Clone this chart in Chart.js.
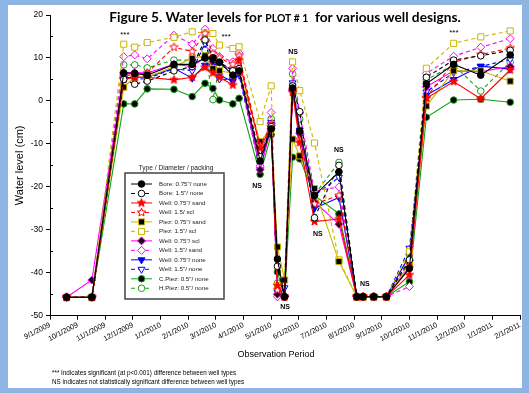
<!DOCTYPE html>
<html lang="en">
<head>
<meta charset="UTF-8">
<title>Figure 5. Water levels for PLOT # 1</title>
<script src="https://cdn.jsdelivr.net/npm/chart.js"></script>
<style>
  html, body { margin: 0; padding: 0; background: #8db4e2; }
  canvas { display: block; }
</style>
</head>
<body>
<canvas id="wellChart" width="529" height="393"></canvas>
<script>
// sampling dates (m/d/yyyy)
var sampleDates = ['9/19/2009', '10/17/2009', '11/21/2009', '12/3/2009', '12/17/2009',
    '1/16/2010', '2/5/2010', '2/18/2010', '2/26/2010', '3/5/2010', '3/20/2010', '3/27/2010',
    '4/19/2010', '5/1/2010', '5/8/2010', '5/16/2010', '5/25/2010', '6/2/2010', '6/18/2010',
    '7/15/2010', '8/4/2010', '8/11/2010', '8/23/2010', '9/6/2010', '10/1/2010', '10/20/2010',
    '11/19/2010', '12/19/2010', '1/21/2011'];

var tickLabels = ['9/1/2009', '10/1/2009', '11/1/2009', '12/1/2009', '1/1/2010', '2/1/2010',
    '3/1/2010', '4/1/2010', '5/1/2010', '6/1/2010', '7/1/2010', '8/1/2010', '9/1/2010',
    '10/1/2010', '11/1/2010', '12/1/2010', '1/1/2011', '2/1/2011'];

// water level (cm), one value per sampling date
var bore075None  = [-45.7, -45.7, 6.5, 6.4, 6.0, 8.5, 8.5, 10.0, 10.0, 9.0, 6.0, 7.0, -14.0, -6.5, -36.8, -45.6, 3.0, -7.0, -22.0, -16.5, -45.6, -45.6, -45.6, -45.6, -39.0, 4.0, 8.5, 6.0, 10.7];
var bore15None   = [-45.7, -45.7, 5.0, 3.9, 4.6, 7.0, 8.0, 14.2, 10.0, 9.0, 7.0, 7.5, -13.0, -6.0, -38.5, -45.6, 3.5, -2.5, -27.2, -15.0, -45.6, -45.6, -45.6, -45.6, -37.0, 5.5, 9.5, 10.5, 11.8];
var well075Sand  = [-45.7, -45.7, 5.0, 5.5, 5.5, 4.9, 5.5, 7.8, 6.5, 5.5, 3.7, 9.5, -11.0, -6.0, -43.0, -45.6, 2.0, -9.7, -28.1, -27.5, -45.6, -45.6, -45.6, -45.6, -40.5, 0.6, 4.5, 0.5, 7.2];
var well15Scl    = [-45.7, -45.7, 6.0, 6.0, 6.5, 12.5, 11.5, 15.7, 11.0, 10.0, 8.5, 10.5, -10.5, -5.5, -44.0, -45.6, 2.5, -9.0, -24.0, -22.0, -45.6, -45.6, -45.6, -45.6, -37.4, 0.8, 9.0, 10.8, 12.3];
var piez075Sand  = [-45.7, -45.7, 3.2, 5.5, 5.5, 8.0, 9.9, 10.5, 7.5, 7.0, 6.5, 7.0, -9.5, -6.5, -34.0, -41.7, -8.9, -12.8, -20.4, -37.4, -45.6, -45.6, -45.6, -45.6, -38.0, -1.2, 7.0, 7.0, 4.6];
var piez15Scl    = [-45.7, -45.7, 13.2, 12.5, 13.6, 14.8, 16.1, 15.8, 15.7, 13.0, 12.2, 12.6, -4.8, 3.5, -43.0, -41.7, 9.1, 2.4, -9.8, -37.0, -45.6, -45.6, -45.6, -45.6, -35.0, 7.6, 13.4, 14.9, 16.3];
var well075Scl   = [-45.7, -41.7, 6.6, 6.6, 6.5, 8.5, 8.0, 10.1, 9.2, 9.0, 7.0, 7.0, -16.0, -6.4, -45.0, -45.6, 2.5, -7.5, -23.5, -28.7, -45.6, -45.6, -45.6, -45.6, -38.6, 3.3, 7.0, 6.8, 8.0];
var well15Sand   = [-45.7, -45.7, 10.3, 10.7, 9.8, 15.3, 13.2, 16.7, 12.2, 10.3, 9.1, 11.1, -15.2, -2.7, -45.6, -45.6, 7.6, -2.8, -21.0, -20.0, -45.6, -45.6, -45.6, -45.6, -43.2, 6.4, 10.4, 12.5, 14.5];
var well075None  = [-45.7, -45.7, 5.3, 5.5, 5.5, 7.6, 5.3, 8.3, 8.5, 6.0, 4.5, 6.5, -14.5, -5.5, -44.5, -45.6, 3.5, -8.0, -25.0, -22.5, -45.6, -45.6, -45.6, -45.6, -36.0, 1.3, 5.0, 8.1, 7.4];
var well15None   = [-45.7, -45.7, 5.8, 5.0, 5.2, 7.5, 7.0, 13.4, 8.0, 5.1, 4.9, 6.0, -16.0, -5.0, -45.6, -43.5, 4.2, -6.8, -22.0, -17.8, -45.6, -45.6, -45.6, -45.6, -34.3, 2.1, 6.6, 8.0, 9.7];
var cPiez05None  = [-45.7, -45.7, -0.7, -0.7, 2.8, 2.7, 1.0, 4.1, 2.9, 0.2, -0.7, 0.6, -17.1, -7.9, -39.8, -45.6, -13.1, -13.5, -22.0, -26.3, -45.6, -45.6, -45.6, -45.6, -42.1, -3.8, 0.2, 0.4, -0.3];
var hPiez05None  = [-45.7, -45.7, 8.4, 8.4, 7.7, 9.5, 9.5, 11.8, 0.3, 8.0, 7.6, 7.0, -13.3, -4.2, -42.4, -45.6, 6.3, -4.2, -21.8, -14.3, -45.6, -45.6, -45.6, -45.6, -35.9, 4.9, 8.4, 2.3, 9.0];

var seriesNames = ['Bore: 0.75"/ none', 'Bore: 1.5"/ none', 'Well: 0.75"/ sand', 'Well: 1.5/ scl',
    'Piez: 0.75"/ sand', 'Piez: 1.5"/ scl', 'Well: 0.75"/ scl', 'Well: 1.5"/ sand',
    'Well: 0.75"/ none', 'Well: 1.5"/ none', 'C.Piez: 0.5"/ none', 'H.Piez: 0.5"/ none'];
var seriesValues = [bore075None, bore15None, well075Sand, well15Scl, piez075Sand, piez15Scl,
    well075Scl, well15Sand, well075None, well15None, cPiez05None, hPiez05None];

// significance notes: [text, months after 9/1/2009, water level]
var notes = [['***', 2.71, 15.3], ['***', 6.37, 14.9], ['***', 14.61, 15.8],
    ['NS', 8.79, 11.4], ['NS', 7.49, -19.8], ['NS', 10.45, -11.4],
    ['NS', 9.69, -31.0], ['NS', 11.39, -42.6], ['NS', 8.5, -48.0]];

var YELLOW = '#cbb700', GREEN = '#13a313';

function starMarker(fill, stroke) {
    var c = document.createElement('canvas');
    c.width = 11; c.height = 11;
    var g = c.getContext('2d');
    g.beginPath();
    for (var i = 0; i < 10; i++) {
        var r = i % 2 ? 1.9 : 4.4;
        var a = -Math.PI / 2 + i * Math.PI / 5;
        g.lineTo(5.5 + r * Math.cos(a), 5.5 + r * Math.sin(a));
    }
    g.closePath();
    g.fillStyle = fill; g.fill();
    g.lineWidth = 1; g.strokeStyle = stroke; g.stroke();
    return c;
}

// line colour, dashed?, marker, marker fill, marker size, rotation
var looks = [
    ['#000000', false, 'circle', '#000000', 3.3, 0],
    ['#000000', true,  'circle', '#ffffff', 3.3, 0],
    ['#ff0000', false, starMarker('#ff0000', '#ff0000'), null, 4, 0],
    ['#ff0000', true,  starMarker('#ffffff', '#ff0000'), null, 4, 0],
    [YELLOW,    false, 'rect', '#000000', 4.3, 0],
    [YELLOW,    true,  'rect', '#ffffff', 4.3, 0],
    ['#ff00ff', false, 'rectRot', '#1a001a', 4, 0],
    ['#ff00ff', true,  'rectRot', '#ffffff', 4, 0],
    ['#0000ff', false, 'triangle', '#0000ff', 4, 180],
    ['#0000ff', true,  'triangle', '#ffffff', 4, 180],
    [GREEN,     false, 'circle', '#000000', 3.3, 0],
    [GREEN,     true,  'circle', '#ffffff', 3.3, 0]
];

function monthsFromStart(s) {
    var p = s.split('/');
    var m = +p[0], d = +p[1], y = +p[2];
    var days = new Date(y, m, 0).getDate();
    return (y - 2009) * 12 + (m - 9) + (d - 1) / days;
}

var datasets = seriesValues.map(function (vals, i) {
    var lk = looks[i];
    return {
        label: seriesNames[i],
        data: vals.map(function (v, j) { return { x: monthsFromStart(sampleDates[j]), y: v }; }),
        borderColor: lk[0],
        borderWidth: 1.1,
        borderDash: lk[1] ? [4, 3] : [],
        pointStyle: lk[2],
        pointRadius: lk[4],
        pointRotation: lk[5],
        pointBackgroundColor: lk[3] || lk[0],
        pointBorderColor: lk[0],
        pointBorderWidth: 1,
        tension: 0,
        fill: false
    };
});

var AXIS_FONT = 'Liberation Sans, Arial, sans-serif';

var decorations = {
    id: 'decorations',
    beforeDraw: function (chart) {
        var ctx = chart.ctx;
        ctx.save();
        ctx.fillStyle = '#8db4e2';
        ctx.fillRect(0, 0, chart.width, chart.height);
        ctx.fillStyle = '#ffffff';
        ctx.fillRect(8, 5, 514, 383);
        ctx.restore();
    },
    afterDraw: function (chart) {
        var ctx = chart.ctx, area = chart.chartArea;
        var xs = chart.scales.x, ys = chart.scales.y;
        ctx.save();

        // minor y ticks
        ctx.strokeStyle = '#000'; ctx.lineWidth = 1;
        for (var v = -45; v < 20; v += 10) {
            var py = Math.round(ys.getPixelForValue(v)) + 0.5;
            ctx.beginPath(); ctx.moveTo(area.left, py); ctx.lineTo(area.left + 3, py); ctx.stroke();
        }

        // title with small caps part
        var big = 'bold 13.7px Lato, "Open Sans", sans-serif';
        var small = 'bold 10.4px Lato, "Open Sans", sans-serif';
        var parts = [['Figure 5. Water levels for ', big], ['PLOT # 1', small], ['  for various well designs.', big]];
        var total = 0;
        parts.forEach(function (p) { ctx.font = p[1]; total += ctx.measureText(p[0]).width; });
        var tx = (area.left + area.right) / 2 - total / 2;
        ctx.fillStyle = '#000'; ctx.textBaseline = 'alphabetic'; ctx.textAlign = 'left';
        parts.forEach(function (p) { ctx.font = p[1]; ctx.fillText(p[0], tx, 22); tx += ctx.measureText(p[0]).width; });

        // axis titles
        ctx.font = '11px ' + AXIS_FONT;
        ctx.textAlign = 'center'; ctx.textBaseline = 'middle';
        ctx.save();
        ctx.translate(20, (area.top + area.bottom) / 2);
        ctx.rotate(-Math.PI / 2);
        ctx.fillText('Water level (cm)', 0, 0);
        ctx.restore();
        ctx.font = '9px ' + AXIS_FONT;
        ctx.fillText('Observation Period', 276, 355);

        // footnotes
        ctx.font = '6.3px ' + AXIS_FONT;
        ctx.textAlign = 'left';
        ctx.fillText('*** Indicates significant (at p<0.001) difference between well types', 52, 373);
        ctx.fillText('NS indicates not statistically significant difference between well types', 52, 382);

        // significance notes
        ctx.textAlign = 'center';
        notes.forEach(function (n) {
            ctx.font = (n[0] === 'NS' ? 'bold 7px ' : '8px ') + AXIS_FONT;
            ctx.fillText(n[0], xs.getPixelForValue(n[1]), ys.getPixelForValue(n[2]));
        });

        // legend
        var bx = 125, by = 173, bw = 99, bh = 126;
        ctx.fillStyle = '#fff';
        ctx.fillRect(bx, by, bw, bh);
        ctx.strokeStyle = '#444'; ctx.lineWidth = 1.5;
        ctx.strokeRect(bx, by, bw, bh);
        ctx.fillStyle = '#222';
        ctx.font = '6.6px ' + AXIS_FONT;
        ctx.fillText('Type / Diameter / packing', 176, 168);
        chart.data.datasets.forEach(function (ds, i) {
            var ly = 184 + i * 9.48;
            ctx.strokeStyle = ds.borderColor; ctx.lineWidth = 1;
            ctx.setLineDash(ds.borderDash);
            ctx.beginPath(); ctx.moveTo(131, ly); ctx.lineTo(152, ly); ctx.stroke();
            ctx.setLineDash([]);
            ctx.fillStyle = ds.pointBackgroundColor; ctx.strokeStyle = ds.pointBorderColor;
            Chart.helpers.drawPoint(ctx, {
                pointStyle: ds.pointStyle, rotation: ds.pointRotation,
                radius: ds.pointRadius, borderWidth: 1
            }, 141.5, ly);
            ctx.fillStyle = '#222'; ctx.textAlign = 'left';
            ctx.font = '6.2px ' + AXIS_FONT;
            ctx.fillText(ds.label, 159, ly);
        });
        ctx.restore();
    }
};

new Chart(document.getElementById('wellChart'), {
    type: 'line',
    data: { datasets: datasets },
    options: {
        responsive: false,
        animation: false,
        devicePixelRatio: 1,
        layout: { padding: { left: 0, right: 9, top: 15, bottom: 0 } },
        plugins: { legend: { display: false }, tooltip: { enabled: false } },
        scales: {
            x: {
                type: 'linear', min: 0, max: 17,
                afterFit: function (s) { s.height = 77.3; },
                ticks: {
                    stepSize: 1, autoSkip: false, minRotation: 27, maxRotation: 27, padding: 1,
                    color: '#000', font: { family: AXIS_FONT, size: 7.3 },
                    callback: function (v) { return tickLabels[v]; }
                },
                grid: { drawOnChartArea: false, tickLength: 4, color: '#000' },
                border: { display: true, color: '#000', width: 1 }
            },
            y: {
                min: -50, max: 20,
                afterFit: function (s) { s.width = 50; },
                ticks: { stepSize: 10, padding: 3, color: '#000', font: { family: AXIS_FONT, size: 8.5 } },
                grid: { drawOnChartArea: false, tickLength: 4, color: '#000' },
                border: { display: true, color: '#000', width: 1 }
            }
        }
    },
    plugins: [decorations]
});
</script>
</body>
</html>
